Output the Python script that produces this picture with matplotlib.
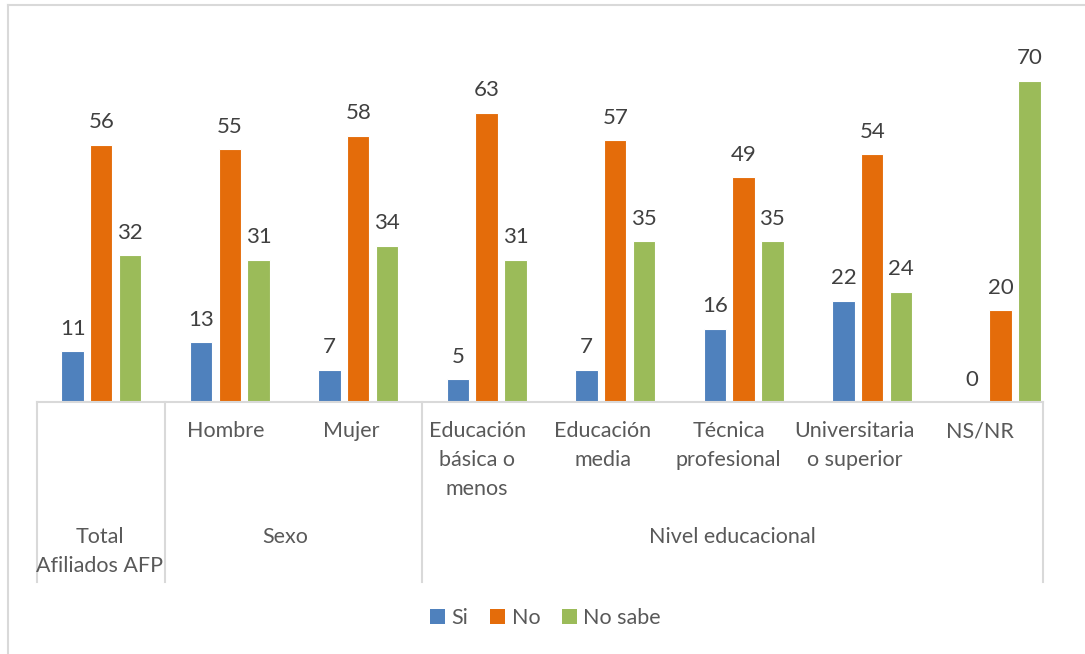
import numpy as np
import matplotlib
import matplotlib.pyplot as plt
from matplotlib.patches import Patch
from matplotlib.lines import Line2D
import matplotlib.transforms as mtransforms

matplotlib.rc('font', family=['Lato', 'DejaVu Sans'], size=15.5)

# data
categories = ['Total\nAfiliados AFP', 'Hombre', 'Mujer', 'Educación\nbásica o\nmenos',
              'Educación\nmedia', 'Técnica\nprofesional', 'Universitaria\no superior', 'NS/NR']
si = [11, 13, 7, 5, 7, 16, 22, 0]
no = [56, 55, 58, 63, 57, 49, 54, 20]
no_sabe = [32, 31, 34, 31, 35, 35, 24, 70]
series_names = ['Si', 'No', 'No sabe']
colors = ['#4F81BD', '#E46C0A', '#9BBB59']
groups = ['Sexo', 'Nivel educacional']

W, H = 1085, 654
fig = plt.figure(figsize=(W / 100, H / 100), dpi=100)
ax = fig.add_axes([37 / W, 1 - 402 / H, (1043 - 37) / W, 365 / H])

x = np.arange(len(categories))
width = 0.175
step = 0.223
txt = '#595959'
val_txt = '#404040'
grid_c = '#D9D9D9'

for k, (vals, name, c) in enumerate(zip([si, no, no_sabe], series_names, colors)):
    pos = x + (k - 1) * step
    ax.bar(pos, vals, width, color=c, edgecolor='white', linewidth=0.8, label=name)
    for p, v in zip(pos, vals):
        ax.annotate(str(v), (p, v), xytext=(0, 9), textcoords='offset points',
                    ha='center', va='bottom', color=val_txt, fontsize=16)

ax.set_xlim(-0.5, 7.329)
ax.set_ylim(0, 79.5)
for s in ['top', 'left', 'right']:
    ax.spines[s].set_visible(False)
ax.spines['bottom'].set_color(grid_c)
ax.spines['bottom'].set_linewidth(1.5)
ax.set_xticks([])
ax.set_yticks([])

# hierarchical category axis
trans = mtransforms.blended_transform_factory(ax.transData, ax.transAxes)
y_low = (402 - 582) / 365
for xs in [-0.5, 0.5, 2.5]:
    ax.plot([xs, xs], [0, y_low], transform=trans, color=grid_c, lw=1.5, clip_on=False)
ax.plot([1, 1], [0, y_low], transform=ax.transAxes, color=grid_c, lw=1.5, clip_on=False)

n = len(categories)
for i, lab in enumerate(categories):
    if i == 0:
        ax.text((i + 0.5) / n, (402 - 551.5) / 365, lab, transform=ax.transAxes,
                ha='center', va='center', color=txt, linespacing=1.55)
    else:
        ax.text((i + 0.5) / n, (402 - 421) / 365, lab, transform=ax.transAxes,
                ha='center', va='top', color=txt, linespacing=1.55)

ax.text(1.43, (402 - 537) / 365, groups[0], transform=trans, ha='center', va='center', color=txt)
ax.text((2.5 + 7.329) / 2, (402 - 537) / 365, groups[1], transform=trans,
        ha='center', va='center', color=txt)

# legend
handles = [Patch(facecolor=c, label=nm) for c, nm in zip(colors, series_names)]
fig.legend(handles=handles, loc='center', bbox_to_anchor=(545.5 / W, 1 - 618 / H), ncol=3,
           frameon=False, handlelength=0.7, handleheight=0.7, handletextpad=0.3,
           columnspacing=1.0, labelcolor=txt, fontsize=15.5)

# chart frame (top and left edges)
fig.add_artist(Line2D([8 / W, 1], [1 - 5 / H, 1 - 5 / H], transform=fig.transFigure, color=grid_c, lw=1.5))
fig.add_artist(Line2D([8 / W, 8 / W], [0, 1 - 5 / H], transform=fig.transFigure, color=grid_c, lw=1.5))

fig.savefig('out.png', dpi=100)
